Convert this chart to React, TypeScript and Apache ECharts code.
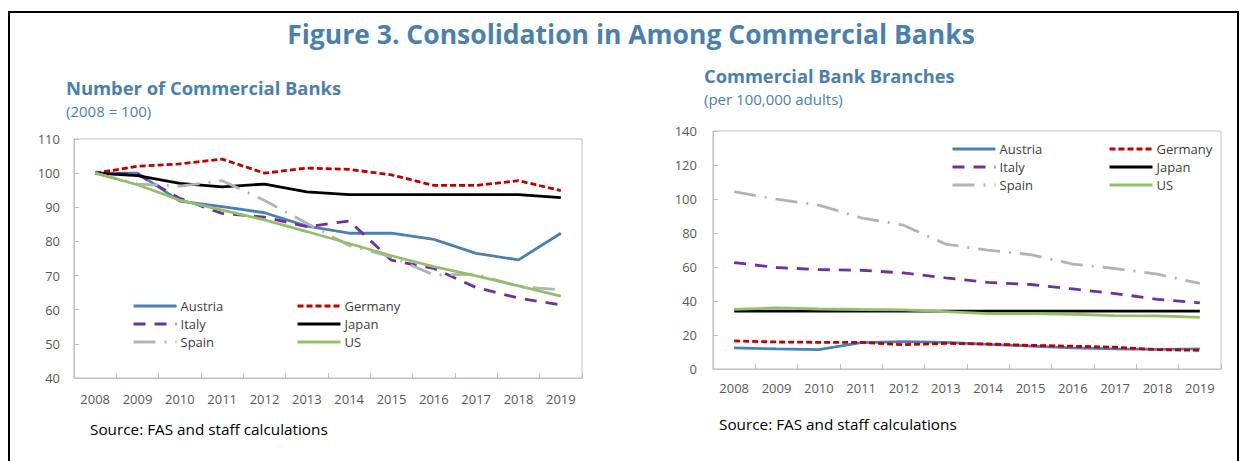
import React, { useEffect, useRef } from "react";
import * as echarts from "echarts";

const years = ["2008", "2009", "2010", "2011", "2012", "2013", "2014", "2015", "2016", "2017", "2018", "2019"];
const countries = ["Austria", "Germany", "Italy", "Japan", "Spain", "US"];

// Number of commercial banks (2008 = 100)
const banksAustria = [100, 100, 91.8, 90.2, 88.4, 84.5, 82.4, 82.4, 80.6, 76.5, 74.6, 82.4];
const banksGermany = [100, 102, 102.7, 104.1, 100, 101.5, 101.1, 99.5, 96.4, 96.4, 97.8, 94.9];
const banksItaly = [100, 99.7, 92.6, 88.2, 87.1, 84.3, 86, 74.5, 72.1, 66.5, 63.4, 61.4];
const banksJapan = [100, 99.3, 97, 96, 96.8, 94.5, 93.7, 93.7, 93.7, 93.7, 93.7, 92.8];
const banksSpain = [100, 96.8, 96.2, 97.8, 92, 85.3, 78.8, 75.5, 70.2, 70.4, 66.8, 65.8];
const banksUS = [100, 96.6, 92.1, 89.2, 86.3, 82.9, 79.4, 75.8, 72.6, 69.9, 67, 64];

// Commercial bank branches (per 100,000 adults)
const branchAustria = [12.4, 11.8, 11.4, 15.5, 16.1, 15.7, 14.5, 13.5, 12.4, 11.8, 11.6, 11.8];
const branchGermany = [16.5, 15.9, 15.7, 15.7, 14.3, 15.1, 14.7, 13.9, 13.4, 12.8, 11.4, 11.0];
const branchItaly = [62.6, 59.7, 58.5, 58.1, 56.5, 53.6, 50.9, 49.7, 47.1, 44.4, 41.0, 38.9];
const branchJapan = [34, 34, 34, 34, 34, 34, 34, 34, 34, 34, 34, 34];
const branchSpain = [104.3, 99.9, 96.4, 88.9, 84.6, 73.4, 69.9, 67.3, 61.7, 59.1, 55.8, 50.3];
const branchUS = [35.1, 35.9, 35.3, 35.0, 34.8, 33.8, 32.6, 32.6, 32.2, 31.4, 31.2, 30.4];

const leftTicks = { min: 40, max: 110, interval: 10 };
const rightTicks = { min: 0, max: 140, interval: 20 };

const FONT = "'Open Sans', 'Noto Sans', sans-serif";
const BLUE = "#4a80b0";

const styles: Record<string, any> = {
  Austria: { color: "#4b80b3", type: "solid" },
  Germany: { color: "#c00000", type: [6, 3] },
  Italy: { color: "#7030a0", type: [12, 9] },
  Japan: { color: "#000000", type: "solid" },
  Spain: { color: "#b3b3b3", type: [22, 9, 2, 9] },
  US: { color: "#93bf6b", type: "solid" },
};

const leftData: Record<string, number[]> = {
  Austria: banksAustria,
  Germany: banksGermany,
  Italy: banksItaly,
  Japan: banksJapan,
  Spain: banksSpain,
  US: banksUS,
};
const rightData: Record<string, number[]> = {
  Austria: branchAustria,
  Germany: branchGermany,
  Italy: branchItaly,
  Japan: branchJapan,
  Spain: branchSpain,
  US: branchUS,
};

function makeSeries(data: Record<string, number[]>, idx: number) {
  return countries.map((c) => ({
    name: c,
    type: "line",
    xAxisIndex: idx,
    yAxisIndex: idx,
    data: data[c],
    symbol: "none",
    showSymbol: false,
    color: styles[c].color,
    lineStyle: { color: styles[c].color, width: 2.8, type: styles[c].type },
    z: 2,
  }));
}

function makeLegend(names: string[], left: number, top: number) {
  return {
    data: names,
    orient: "vertical",
    left,
    top,
    itemWidth: 43,
    itemHeight: 14,
    itemGap: 4,
    padding: 0,
    selectedMode: false,
    itemStyle: { color: "transparent", borderColor: "transparent", borderWidth: 0, opacity: 0 },
    lineStyle: { width: 3 },
    textStyle: { fontFamily: FONT, fontSize: 13, color: "#404040", lineHeight: 14, padding: [0, 0, 0, -1] },
  };
}

function xAxisCfg(gridIndex: number, margin: number) {
  return {
    type: "category",
    gridIndex,
    data: years,
    boundaryGap: true,
    axisLine: { show: true, lineStyle: { color: "#bfbfbf", width: 1 } },
    axisTick: { show: true, inside: true, length: 5, lineStyle: { color: "#bfbfbf" } },
    axisLabel: { color: "#595959", fontFamily: FONT, fontSize: 13, margin },
    splitLine: { show: false },
  };
}

function yAxisCfg(gridIndex: number, t: { min: number; max: number; interval: number }, margin: number) {
  return {
    type: "value",
    gridIndex,
    min: t.min,
    max: t.max,
    interval: t.interval,
    axisLine: { show: true, lineStyle: { color: "#bfbfbf", width: 1 } },
    axisTick: { show: true, inside: true, length: 5, lineStyle: { color: "#bfbfbf" } },
    axisLabel: { color: "#595959", fontFamily: FONT, fontSize: 13, margin },
    splitLine: { show: false },
  };
}

export default function App() {
  const ref = useRef<HTMLDivElement>(null);
  useEffect(() => {
    document.body.style.margin = "0";
    const chart = echarts.init(ref.current!, null, { renderer: "svg" });
    chart.setOption({
      animation: false,
      backgroundColor: "#ffffff",
      grid: [
        { left: 74, top: 139, width: 508, height: 239, show: true, borderColor: "#bfbfbf", borderWidth: 1 },
        { left: 713, top: 131, width: 508, height: 238, show: true, borderColor: "#bfbfbf", borderWidth: 1 },
      ],
      xAxis: [xAxisCfg(0, 14), xAxisCfg(1, 12)],
      yAxis: [yAxisCfg(0, leftTicks, 14), yAxisCfg(1, rightTicks, 16)],
      legend: [
        makeLegend(["Austria", "Italy", "Spain"], 132, 299),
        makeLegend(["Germany", "Japan", "US"], 296, 299),
        makeLegend(["Austria", "Italy", "Spain"], 951, 142),
        makeLegend(["Germany", "Japan", "US"], 1108, 142),
      ],
      series: [...makeSeries(leftData, 0), ...makeSeries(rightData, 1)],
      graphic: [
        {
          type: "rect",
          shape: { x: 9, y: 12, width: 1229, height: 470 },
          style: { fill: "none", stroke: "#000", lineWidth: 2 },
          silent: true,
        },
        {
          type: "text",
          x: 631,
          y: 34,
          style: {
            text: "Figure 3. Consolidation in Among Commercial Banks",
            fontFamily: FONT,
            fontWeight: "bold",
            fontSize: 26.5,
            fill: BLUE,
            align: "center",
            verticalAlign: "middle",
          },
        },
        {
          type: "text",
          x: 66,
          y: 87,
          style: { text: "Number of Commercial Banks", fontFamily: FONT, fontWeight: "bold", fontSize: 18.4, fill: BLUE, verticalAlign: "middle" },
        },
        {
          type: "text",
          x: 66,
          y: 111,
          style: { text: "(2008 = 100)", fontFamily: FONT, fontSize: 15, fill: BLUE, verticalAlign: "middle" },
        },
        {
          type: "text",
          x: 704,
          y: 75,
          style: { text: "Commercial Bank Branches", fontFamily: FONT, fontWeight: "bold", fontSize: 18.3, fill: BLUE, verticalAlign: "middle" },
        },
        {
          type: "text",
          x: 704,
          y: 99,
          style: { text: "(per 100,000 adults)", fontFamily: FONT, fontSize: 15, fill: BLUE, verticalAlign: "middle" },
        },
        {
          type: "text",
          x: 90,
          y: 429,
          style: { text: "Source: FAS and staff calculations", fontFamily: FONT, fontSize: 15.3, fill: "#000", verticalAlign: "middle" },
        },
        {
          type: "text",
          x: 719,
          y: 424,
          style: { text: "Source: FAS and staff calculations", fontFamily: FONT, fontSize: 15.3, fill: "#000", verticalAlign: "middle" },
        },
      ],
    });
    return () => chart.dispose();
  }, []);
  return <div ref={ref} style={{ width: 1241, height: 461 }} />;
}
